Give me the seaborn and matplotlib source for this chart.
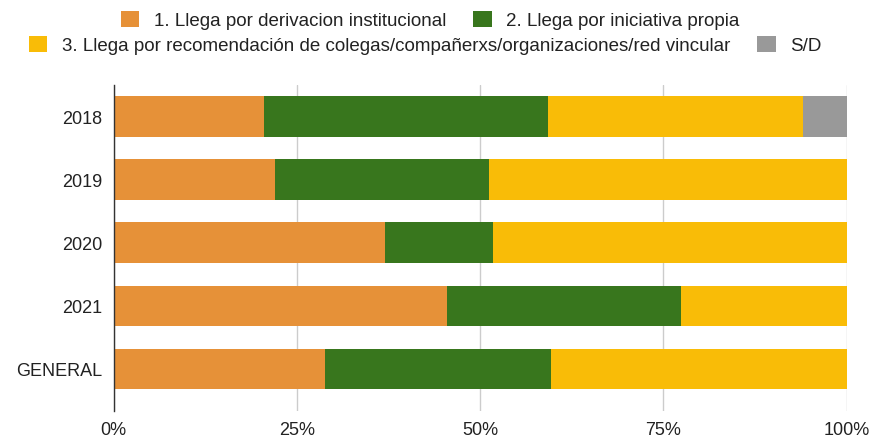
import matplotlib
matplotlib.use("Agg")
import matplotlib.pyplot as plt
import seaborn as sns
import pandas as pd
from matplotlib.patches import Patch
from matplotlib.ticker import FuncFormatter

categories = ["2018", "2019", "2020", "2021", "GENERAL"]
series_names = [
    "1. Llega por derivacion institucional",
    "2. Llega por iniciativa propia",
    "3. Llega por recomendación de colegas/compañerxs/organizaciones/red vincular",
    "S/D",
]
derivacion = [20.5, 22.0, 37.1, 45.5, 28.9]
iniciativa = [38.8, 29.2, 14.7, 31.9, 30.8]
recomendacion = [34.7, 48.8, 48.2, 22.6, 40.3]
sin_dato = [6.0, 0.0, 0.0, 0.0, 0.0]
colors = ["#E69138", "#38761D", "#F9BC07", "#999999"]
xticks = [0, 25, 50, 75, 100]

sns.set_theme(style="white")
plt.rcParams["font.family"] = ["Liberation Sans", "DejaVu Sans"]

FS = 13
LFS = 13.5

df = pd.DataFrame({"cat": categories, "a": derivacion, "b": iniciativa,
                   "c": recomendacion, "d": sin_dato})
df["c1"] = df["a"]
df["c2"] = df["c1"] + df["b"]
df["c3"] = df["c2"] + df["c"]
df["c4"] = df["c3"] + df["d"]

fig = plt.figure(figsize=(8.74, 4.39), dpi=100)
ax = fig.add_axes([113.5 / 874, 1 - 412 / 439, (846.5 - 113.5) / 874, (412 - 86) / 439])

for col, color in zip(["c4", "c3", "c2", "c1"], colors[::-1]):
    sns.barplot(data=df, x=col, y="cat", order=categories, color=color,
                width=0.64, linewidth=0, saturation=1, ax=ax, orient="h")

ax.set_xlim(0, 100)
ax.set_ylim(4.67, -0.5)
ax.set_xticks(xticks)
ax.xaxis.set_major_formatter(FuncFormatter(lambda v, p: f"{int(v)}%"))
ax.set_xlabel("")
ax.set_ylabel("")
for s in ["top", "right", "bottom"]:
    ax.spines[s].set_visible(False)
ax.spines["left"].set_color("#333333")
ax.spines["left"].set_linewidth(1)
ax.grid(axis="x", color="#CCCCCC", linewidth=1)
ax.set_axisbelow(True)
ax.tick_params(axis="both", length=0, labelsize=FS, colors="#222222")
ax.tick_params(axis="y", pad=8)
ax.tick_params(axis="x", pad=7)

h = [Patch(facecolor=c, edgecolor="none") for c in colors]
kw = dict(frameon=False, fontsize=LFS, handlelength=1.0, handleheight=0.95,
          handletextpad=0.75, columnspacing=1.45, borderaxespad=0, borderpad=0)
leg1 = fig.legend(h[:2], series_names[:2], ncol=2, loc="center",
                  bbox_to_anchor=(430 / 874, 1 - 21 / 439), **kw)
leg2 = fig.legend(h[2:], series_names[2:], ncol=2, loc="center",
                  bbox_to_anchor=(425 / 874, 1 - 46 / 439), **kw)
for leg in (leg1, leg2):
    for t in leg.get_texts():
        t.set_color("#222222")

fig.savefig("out.png", dpi=100)
